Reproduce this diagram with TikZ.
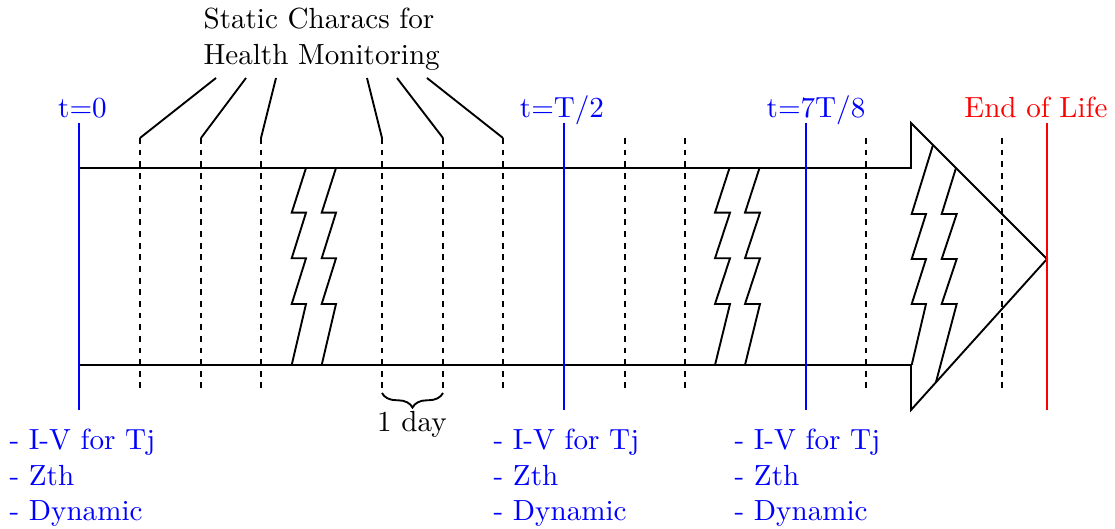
\documentclass[tikz,border=0pt]{standalone}
\usetikzlibrary{decorations.pathreplacing}
\begin{document}
\begin{tikzpicture}[x=0.3436pt,y=-0.3436pt,
  band/.style={line width=0.65pt,line join=miter},
  tick/.style={line width=0.65pt,dash pattern=on 2pt off 2pt},
  callout/.style={line width=0.65pt},
  blueline/.style={blue,line width=0.65pt},
  redline/.style={red,line width=0.65pt},
  lbl/.style={anchor=base,inner sep=0pt},
  blk/.style={anchor=base west,inner sep=0pt,align=left,blue,font=\fontsize{10}{12.3}\selectfont}]
\useasboundingbox (0,0) rectangle (1115,529);
% main band and arrow head
\draw[band] (79,168) -- (911,168) -- (911,123) -- (1047,259) -- (911,410) -- (911,365) -- (79,365);
% zigzag breaks
\foreach \dx in {0,30}{
  \draw[band] (306+\dx,168) -- (291.7+\dx,212.7) -- (306+\dx,212.7) -- (291.7+\dx,258.3) -- (306+\dx,258.3) -- (291.7+\dx,304) -- (306+\dx,304) -- (291.7+\dx,365);
  \draw[band] (729.5+\dx,168) -- (715+\dx,212.7) -- (730+\dx,212.7) -- (715+\dx,258.3) -- (730+\dx,258.3) -- (715+\dx,304) -- (730+\dx,304) -- (715+\dx,365);
}
\draw[band] (933,145) -- (911.7,214) -- (926,214) -- (911.7,259) -- (926,259) -- (911.7,304) -- (926,304) -- (911.7,365);
\draw[band] (956,168) -- (941.7,214) -- (956.7,214) -- (941.7,259) -- (956.7,259) -- (941.7,304) -- (956.7,304) -- (936,382);
% dashed ticks
\foreach \x in {140,201,261,382,443,503,625,685,866,1002}{
  \draw[tick] (\x,138) -- (\x,393);
}
% callout lines
\draw[callout] (216,78) -- (140,138);
\draw[callout] (246,78) -- (201,138);
\draw[callout] (276,78) -- (261,138);
\draw[callout] (367,78) -- (382,138);
\draw[callout] (397,78) -- (443,138);
\draw[callout] (427,78) -- (503,138);
% time markers
\draw[blueline] (79,123) -- (79,410);
\draw[blueline] (564,123) -- (564,410);
\draw[blueline] (806,123) -- (806,410);
\draw[redline] (1047,123) -- (1047,410);
% labels
\node[lbl,blue] (t0) at (82.5,118) {t=0};
\node[lbl,blue] (thalf) at (562,118) {t=T/2};
\node[lbl,blue] (tseven) at (816,118) {t=7T/8};
\node[lbl,red] (eol) at (1036,118) {End of Life};
\node[anchor=base west,inner sep=0pt,align=left,font=\fontsize{10}{12.6}\selectfont] (stat) at (203,65) {Static Characs for\\Health Monitoring};
% brace
\draw[line width=0.65pt,decorate,decoration={brace,amplitude=5pt,mirror}] (382,393) -- (443,393);
\node[lbl] (day) at (412,432) {1 day};
% measurement lists
\node[blk] (m1) at (9,521) {- I-V for Tj\\- Zth\\- Dynamic};
\node[blk] (m2) at (493,521) {- I-V for Tj\\- Zth\\- Dynamic};
\node[blk] (m3) at (734,521) {- I-V for Tj\\- Zth\\- Dynamic};
\end{tikzpicture}
\end{document}
